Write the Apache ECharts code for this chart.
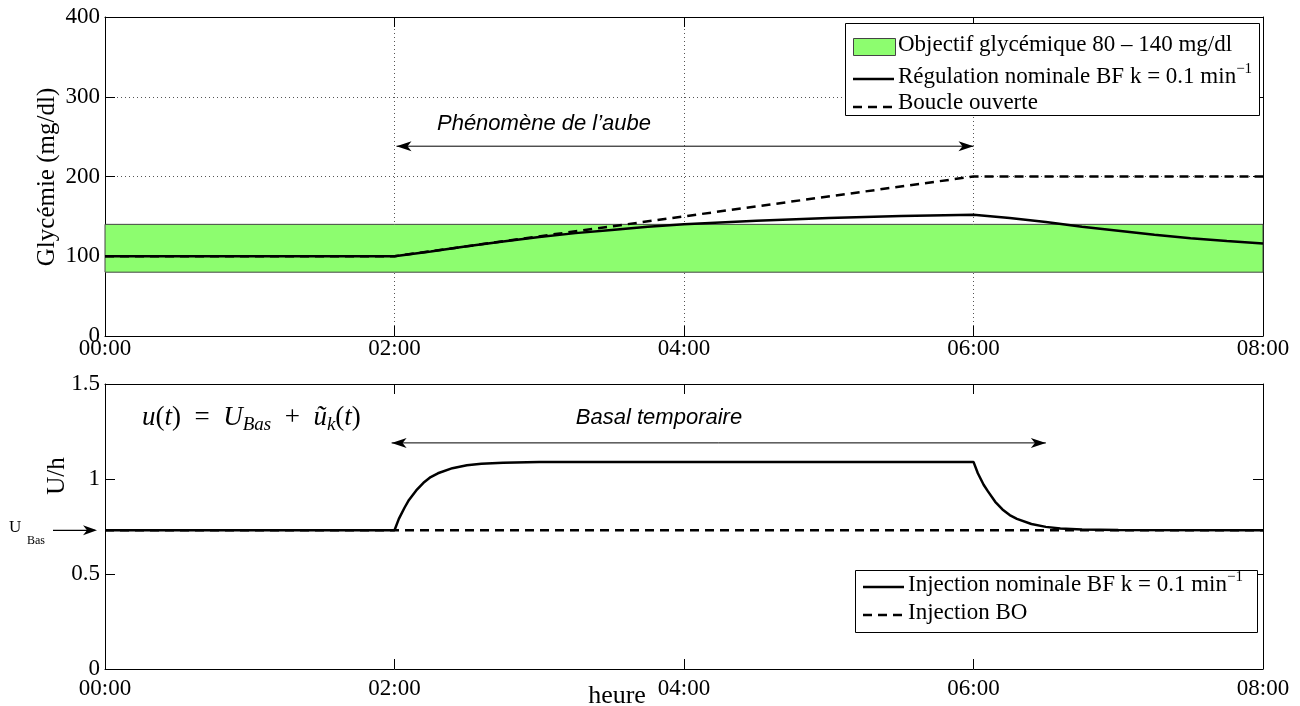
<!DOCTYPE html>
<html>
<head>
<meta charset="utf-8">
<script src="https://cdn.jsdelivr.net/npm/echarts@6/dist/echarts.min.js"></script>
<style>
    html, body { margin: 0; background: #fff; }
    #chart { width: 1300px; height: 706px; }
</style>
</head>
<body>
<div id="chart"></div>
<script>
    // time in hours (00:00 -> 08:00)
    const xTicks = [0, 2, 4, 6, 8];

    // top panel : glycemia (mg/dl)
    const glyTime = [0, 2, 2.25, 2.5, 2.75, 3, 3.25, 3.5, 3.75, 4, 4.5, 5, 5.5, 6, 6.25, 6.5, 6.75, 7, 7.25, 7.5, 7.75, 8];
    const glyBF   = [100, 100, 106, 112.5, 118.5, 124, 129, 133, 137, 140, 144.5, 148, 150.5, 152, 148, 143, 137, 132, 127, 122.5, 119, 116];
    const boTime  = [0, 2, 6, 8];
    const glyBO   = [100, 100, 200, 200];
    const targetBand = [80, 140];

    // bottom panel : insulin (U/h)
    const injTime = [0, 2, 2.03, 2.07, 2.1, 2.15, 2.2, 2.25, 2.3, 2.4, 2.5, 2.6, 2.75, 3, 6, 6.03, 6.07, 6.1, 6.15, 6.2, 6.25, 6.3, 6.4, 6.5, 6.6, 6.75, 7, 8];
    const injBF   = [0.73, 0.73, 0.79, 0.85, 0.89, 0.94, 0.98, 1.01, 1.03, 1.057, 1.072, 1.08, 1.086, 1.09, 1.09, 1.03, 0.97, 0.935, 0.88, 0.84, 0.81, 0.79, 0.763, 0.748, 0.739, 0.734, 0.731, 0.73];
    const injBOTime = [0, 8];
    const injBO   = [0.73, 0.73];

    // annotations
    const dawnSpan = [2, 6], dawnLevel = 238;
    const basalSpan = [1.98, 6.5], basalLevel = 1.19;
    const uBasLevel = 0.73;

    const serif = '"Liberation Serif", "Times New Roman", serif';
    const sans = '"Liberation Sans", Arial, sans-serif';

    function pairs(xs, ys){
        return xs.map((x, i) => [x, ys[i]]);
    }

    function hourLabel(v){
        return '0' + v + ':00';
    }

    function xAxisDef(grid, pos, labelMargin){
        return {
            type: 'value', gridIndex: grid, position: pos,
            min: 0, max: 8, interval: 2,
            axisLine: { show: true, onZero: false, lineStyle: { color: '#000', width: 1 } },
            axisTick: { show: true, inside: true, length: 10, lineStyle: { color: '#000' } },
            axisLabel: {
                show: pos == 'bottom', margin: labelMargin, color: '#000',
                fontFamily: serif, fontSize: 23, formatter: hourLabel,
                showMinLabel: true, showMaxLabel: true, hideOverlap: false
            },
            splitLine: {
                show: grid == 0 && pos == 'bottom',
                lineStyle: { color: '#555', type: [1, 3], width: 1 }
            }
        };
    }

    function yAxisDef(grid, pos, max, interval){
        return {
            type: 'value', gridIndex: grid, position: pos,
            min: 0, max: max, interval: interval,
            axisLine: { show: true, onZero: false, lineStyle: { color: '#000', width: 1 } },
            axisTick: { show: true, inside: true, length: 10, lineStyle: { color: '#000' } },
            axisLabel: {
                show: pos == 'left', margin: 5, color: '#000',
                fontFamily: serif, fontSize: 23,
                showMinLabel: true, showMaxLabel: true, hideOverlap: false
            },
            splitLine: {
                show: grid == 0 && pos == 'left',
                lineStyle: { color: '#555', type: [1, 3], width: 1 }
            }
        };
    }

    const chart = echarts.init(document.getElementById('chart'), null, { renderer: 'canvas' });

    const option = {
        backgroundColor: '#fff',
        animation: false,
        grid: [
            { left: 105, top: 17, right: 37, height: 319, containLabel: false },
            { left: 105, top: 384, right: 37, height: 285, containLabel: false }
        ],
        xAxis: [
            xAxisDef(0, 'bottom', 1),
            xAxisDef(0, 'top', 0),
            xAxisDef(1, 'bottom', 8),
            xAxisDef(1, 'top', 0)
        ],
        yAxis: [
            yAxisDef(0, 'left', 400, 100),
            yAxisDef(0, 'right', 400, 100),
            yAxisDef(1, 'left', 1.5, 0.5),
            yAxisDef(1, 'right', 1.5, 0.5)
        ],
        series: [
            {
                name: 'Boucle ouverte', type: 'line', xAxisIndex: 0, yAxisIndex: 0,
                data: pairs(boTime, glyBO), showSymbol: false, symbol: 'none',
                lineStyle: { color: '#000', width: 2.5, type: [9, 6] },
                z: 3
            },
            {
                name: 'Régulation nominale', type: 'line', xAxisIndex: 0, yAxisIndex: 0,
                data: pairs(glyTime, glyBF), showSymbol: false, symbol: 'none',
                lineStyle: { color: '#000', width: 2.5 },
                markArea: {
                    silent: true,
                    itemStyle: { color: '#8dfd6f', borderColor: '#444', borderWidth: 1 },
                    data: [[{ yAxis: targetBand[0] }, { yAxis: targetBand[1] }]]
                },
                z: 4
            },
            {
                name: 'Injection BO', type: 'line', xAxisIndex: 2, yAxisIndex: 2,
                data: pairs(injBOTime, injBO), showSymbol: false, symbol: 'none',
                lineStyle: { color: '#000', width: 2.5, type: [9, 6] },
                z: 3
            },
            {
                name: 'Injection nominale', type: 'line', xAxisIndex: 2, yAxisIndex: 2,
                data: pairs(injTime, injBF), showSymbol: false, symbol: 'none',
                lineStyle: { color: '#000', width: 2.5 },
                z: 4
            }
        ]
    };
    chart.setOption(option);

    // double headed arrow between two pixel points
    function arrow(x1, x2, y){
        return [
            { type: 'line', shape: { x1: x1, y1: y, x2: x2, y2: y }, style: { stroke: '#000', lineWidth: 1 }, z: 50 },
            { type: 'polygon', shape: { points: [[x1, y], [x1 + 15, y - 5], [x1 + 11, y], [x1 + 15, y + 5]] }, style: { fill: '#000' }, z: 50 },
            { type: 'polygon', shape: { points: [[x2, y], [x2 - 15, y - 5], [x2 - 11, y], [x2 - 15, y + 5]] }, style: { fill: '#000' }, z: 50 }
        ];
    }

    function txt(x, y, text, font, align, z){
        return {
            type: 'text', x: x, y: y, z: z || 60,
            style: { text: text, font: font, fill: '#000', align: align || 'left', verticalAlign: 'middle' }
        };
    }

    const dawnA = chart.convertToPixel({ gridIndex: 0 }, [dawnSpan[0], dawnLevel]);
    const dawnB = chart.convertToPixel({ gridIndex: 0 }, [dawnSpan[1], dawnLevel]);
    const basA = chart.convertToPixel({ gridIndex: 1 }, [basalSpan[0], basalLevel]);
    const basB = chart.convertToPixel({ gridIndex: 1 }, [basalSpan[1], basalLevel]);
    const uBasY = chart.convertToPixel({ gridIndex: 1 }, [0, uBasLevel])[1];

    const legendFont = '23px ' + serif;
    const supRich = { sup: { fontSize: 15, fontFamily: serif, lineHeight: 15, verticalAlign: 'top' } };

    const graphics = [].concat(
        arrow(dawnA[0] + 2, dawnB[0], dawnA[1]),
        arrow(basA[0], basB[0], basA[1]),
        [
            txt(544, 124, 'Phénomène de l’aube', 'italic 22px ' + sans, 'center'),
            txt(659, 418, 'Basal temporaire', 'italic 22px ' + sans, 'center'),
            // axis names
            { type: 'text', x: 47, y: 177, rotation: Math.PI / 2, z: 60,
              style: { text: 'Glycémie (mg/dl)', font: '25px ' + serif, fill: '#000', align: 'center', verticalAlign: 'middle' } },
            { type: 'text', x: 57, y: 476, rotation: Math.PI / 2, z: 60,
              style: { text: 'U/h', font: '25px ' + serif, fill: '#000', align: 'center', verticalAlign: 'middle' } },
            txt(617, 696, 'heure', '26px ' + serif, 'center'),
            // formula
            { type: 'text', x: 142, y: 418, z: 60,
              style: {
                  text: '{i|u}{r|(}{i|t}{r|)  =  }{i|U}{s|Bas}{r|  +  }{i|ũ}{s|k}{r|(}{i|t}{r|)}',
                  fill: '#000', align: 'left', verticalAlign: 'middle',
                  rich: {
                      i: { fontFamily: serif, fontStyle: 'italic', fontSize: 27, lineHeight: 32 },
                      r: { fontFamily: serif, fontSize: 27, lineHeight: 32 },
                      s: { fontFamily: serif, fontStyle: 'italic', fontSize: 19, lineHeight: 19, verticalAlign: 'bottom' }
                  }
              } },
            // U_Bas marker
            txt(9, uBasY - 3, 'U', '17px ' + serif),
            txt(27, uBasY + 11, 'Bas', '12px ' + serif),
            { type: 'line', shape: { x1: 53, y1: uBasY, x2: 95, y2: uBasY }, style: { stroke: '#000', lineWidth: 1.2 }, z: 50 },
            { type: 'polygon', shape: { points: [[97, uBasY], [83, uBasY - 5], [87, uBasY], [83, uBasY + 5]] }, style: { fill: '#000' }, z: 50 },

            // top legend
            { type: 'rect', shape: { x: 845.5, y: 23.5, width: 414, height: 92 }, style: { fill: '#fff', stroke: '#000', lineWidth: 1 }, z: 70 },
            { type: 'rect', shape: { x: 853.5, y: 38.5, width: 42, height: 17 }, style: { fill: '#8dfd6f', stroke: '#444', lineWidth: 1 }, z: 71 },
            txt(898, 45, 'Objectif glycémique 80 – 140 mg/dl', legendFont, 'left', 71),
            { type: 'line', shape: { x1: 853, y1: 79, x2: 894, y2: 79 }, style: { stroke: '#000', lineWidth: 2.5 }, z: 71 },
            { type: 'text', x: 898, y: 77, z: 71,
              style: { text: 'Régulation nominale BF k = 0.1 min{sup|−1}', font: legendFont, lineHeight: 31, fill: '#000', align: 'left', verticalAlign: 'middle', rich: supRich } },
            { type: 'line', shape: { x1: 853, y1: 107, x2: 894, y2: 107 }, style: { stroke: '#000', lineWidth: 2.5, lineDash: [9, 6] }, z: 71 },
            txt(898, 103, 'Boucle ouverte', legendFont, 'left', 71),

            // bottom legend
            { type: 'rect', shape: { x: 855.5, y: 570.5, width: 402, height: 62 }, style: { fill: '#fff', stroke: '#000', lineWidth: 1 }, z: 70 },
            { type: 'line', shape: { x1: 863, y1: 587, x2: 904, y2: 587 }, style: { stroke: '#000', lineWidth: 2.5 }, z: 71 },
            { type: 'text', x: 908, y: 585, z: 71,
              style: { text: 'Injection nominale BF k = 0.1 min{sup|−1}', font: legendFont, lineHeight: 31, fill: '#000', align: 'left', verticalAlign: 'middle', rich: supRich } },
            { type: 'line', shape: { x1: 863, y1: 615, x2: 904, y2: 615 }, style: { stroke: '#000', lineWidth: 2.5, lineDash: [9, 6] }, z: 71 },
            txt(908, 613, 'Injection BO', legendFont, 'left', 71)
        ]
    );

    chart.setOption({ graphic: { elements: graphics } });
</script>
</body>
</html>
